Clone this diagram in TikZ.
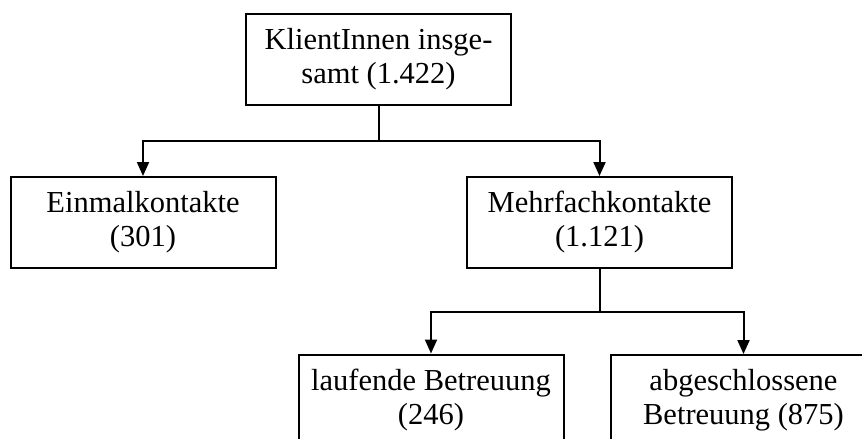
\documentclass[tikz,border=0pt]{standalone}
\usepackage{fontspec}
\setmainfont{Liberation Serif}
\usetikzlibrary{arrows.meta}
\begin{document}
\begin{tikzpicture}[x=1pt,y=-1pt,
  box/.style={draw, line width=2pt, minimum width=265pt, minimum height=91pt,
    inner sep=0pt, align=center, font=\fontsize{30.5}{34}\selectfont},
  conn/.style={line width=2pt},
  arr/.style={conn, -{Triangle[width=12pt,length=14pt]}}]
\clip (0,0) rectangle (862,439);
\fill[white] (0,0) rectangle (862,439);
\node[box] (top) at (378.5,59.5) {KlientInnen insge-\\samt (1.422)};
\node[box] (einmal) at (143,222.5) {Einmalkontakte\\(301)};
\node[box] (mehr) at (599.5,222.5) {Mehrfachkontakte\\(1.121)};
\node[box] (lauf) at (431,400) {laufende Betreuung\\(246)};
\node[box] (abg) at (743.5,400.5) {abgeschlossene\\Betreuung (875)};
\coordinate (j1) at (378.5,141);
\coordinate (j2) at (599.5,312);
\draw[conn] (top.south) -- (j1);
\draw[arr] (j1) -| (einmal.north);
\draw[arr] (j1) -| (mehr.north);
\draw[conn] (mehr.south) -- (j2);
\draw[arr] (j2) -| (lauf.north);
\draw[arr] (j2) -| (abg.north);
\end{tikzpicture}
\end{document}
